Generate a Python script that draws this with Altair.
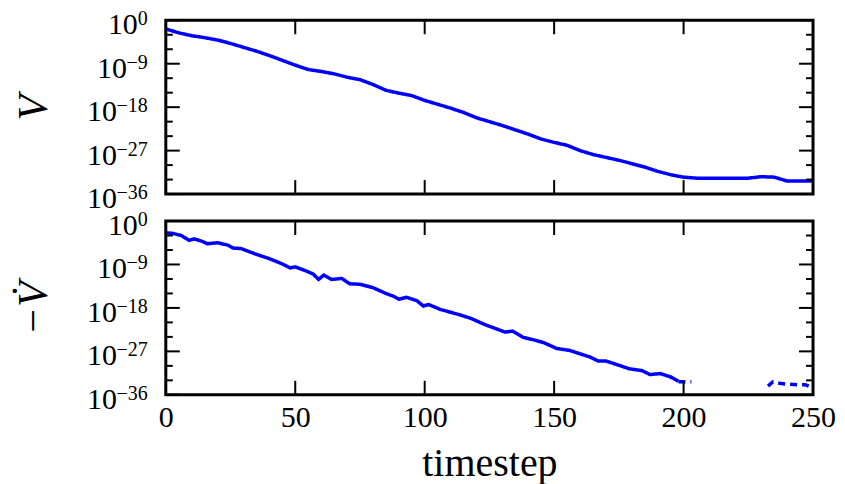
import altair as alt
import pandas as pd

# ---- data (exponents of 10) ----
t_V = [0, 5, 10, 15, 20, 25, 30, 35, 40, 45, 50, 55, 60, 65, 70, 75, 80, 85, 90, 95,
       100, 105, 110, 115, 120, 125, 130, 135, 140, 145, 150, 155, 160, 165, 170, 175,
       180, 185, 190, 195, 200, 205, 210, 215, 220, 225, 230, 235, 240, 245, 250]
exp_V = [-1.8, -2.6, -3.2, -3.6, -4.1, -4.8, -5.6, -6.4, -7.3, -8.3, -9.3, -10.2, -10.6,
         -11.1, -11.8, -12.3, -13.3, -14.5, -15.1, -15.6, -16.6, -17.4, -18.2, -19.1,
         -20.2, -21.0, -21.8, -22.7, -23.6, -24.6, -25.3, -25.9, -27.0, -27.8, -28.4,
         -29.0, -29.7, -30.4, -31.3, -32.0, -32.5, -32.7, -32.7, -32.7, -32.7, -32.7,
         -32.4, -32.5, -33.3, -33.3, -33.3]

t_D = [0, 3, 6, 9, 11, 14, 16, 20, 24, 26, 29, 35, 40, 45, 48, 50, 54, 57, 59, 61, 64,
       68, 71, 75, 80, 85, 88, 90, 93, 97, 99.5, 101.5, 106, 110, 114, 118, 123, 127,
       131, 134, 138, 142, 146, 151, 156, 160, 164, 167, 170, 174, 179, 184, 187, 191,
       195, 198,
       198, 203,
       232.6, 234.5, 237, 240, 244, 247, 250]
exp_D = [-2.4, -2.6, -3.0, -4.0, -3.7, -4.2, -4.7, -4.5, -5.0, -5.6, -5.7, -6.9, -7.8,
         -8.9, -9.7, -9.5, -10.3, -11.0, -12.1, -11.2, -12.1, -11.9, -13.0, -13.1, -13.8,
         -15.0, -15.6, -16.2, -15.8, -16.5, -17.6, -17.3, -18.3, -18.9, -19.5, -20.2,
         -21.4, -22.2, -23.0, -22.8, -24.1, -24.6, -25.2, -26.4, -26.8, -27.5, -28.2,
         -29.0, -29.0, -29.7, -30.6, -31.0, -31.8, -31.6, -32.3, -33.2,
         -33.3, -33.3,
         -34.2, -33.3, -33.6, -33.8, -33.9, -33.9, -34.6]
seg_D = ["a"] * 56 + ["b"] * 2 + ["c"] * 7

y_major = [1e0, 1e-9, 1e-18, 1e-27, 1e-36]
y_major_exp = ["0", "\u22129", "\u221218", "\u221227", "\u221236"]
y_minor = [1e-3, 1e-6, 1e-12, 1e-15, 1e-21, 1e-24, 1e-30, 1e-33]
x_major = [0, 50, 100, 150, 200, 250]

FONT = "Liberation Serif"
W, H = 648, 174
BLUE = "#0000ff"
TICK_FS = 30
EXP_FS = 20
LAB_GAP = 18
# offset of the base "10" for exponents of 1, 2 and 3 characters
BASE_DX = {1: -(LAB_GAP + 10), 2: -(LAB_GAP + 21), 3: -(LAB_GAP + 31)}

df_V = pd.DataFrame({"t": t_V, "v": [10.0 ** e for e in exp_V], "seg": ["a"] * len(t_V)})
df_D = pd.DataFrame({"t": t_D, "v": [10.0 ** e for e in exp_D], "seg": seg_D})
df_ymaj = pd.DataFrame({"v": y_major, "exp": y_major_exp,
                        "n": [len(s) for s in y_major_exp], "base": ["10"] * len(y_major)})
df_ymin = pd.DataFrame({"v": y_minor})
df_x = pd.DataFrame({"x": x_major})

ysc = alt.Scale(type="log", domain=[1e-36, 1], nice=False)
xsc = alt.Scale(domain=[0, 250], nice=False, zero=False)


def y_axis(title):
    return alt.Axis(values=y_major, labels=False, ticks=False, tickSize=0,
                    domain=False, grid=False, title=title, titleFont=FONT,
                    titleFontSize=42, titleFontStyle="italic", titleFontWeight="normal",
                    titleColor="black", titlePadding=110)


def x_axis():
    return alt.Axis(values=x_major, ticks=False, tickSize=0, domain=False, grid=False,
                    labelFont=FONT, labelFontSize=TICK_FS, labelColor="black",
                    labelPadding=8, title="timestep", titleFont=FONT,
                    titleFontSize=40, titleFontWeight="normal", titleColor="black",
                    titlePadding=11, labelFlush=False)


def panel(df, title, show_x):
    xa = x_axis() if show_x else None
    ya = y_axis(title)
    line = alt.Chart(df).mark_line(color=BLUE, strokeWidth=3.5, clip=True).encode(
        x=alt.X("t:Q", scale=xsc, axis=xa),
        y=alt.Y("v:Q", scale=ysc, axis=ya),
        detail="seg:N",
        strokeDash=alt.StrokeDash("seg:N", scale=alt.Scale(domain=["a", "b", "c"],
                                  range=[[1, 0], [7, 5], [7, 5]]), legend=None),
        order="t:Q",
    )
    rule = dict(color="black", strokeWidth=2)
    ylm = alt.Chart(df_ymaj).mark_rule(**rule).encode(
        y=alt.Y("v:Q", scale=ysc, axis=ya), x=alt.value(0), x2=alt.value(14))
    yln = alt.Chart(df_ymin).mark_rule(**rule).encode(
        y=alt.Y("v:Q", scale=ysc, axis=ya), x=alt.value(0), x2=alt.value(7))
    yrm = alt.Chart(df_ymaj).mark_rule(**rule).encode(
        y=alt.Y("v:Q", scale=ysc, axis=ya), x=alt.value(W), x2=alt.value(W - 14))
    yrn = alt.Chart(df_ymin).mark_rule(**rule).encode(
        y=alt.Y("v:Q", scale=ysc, axis=ya), x=alt.value(W), x2=alt.value(W - 7))
    xb = alt.Chart(df_x).mark_rule(**rule).encode(
        x=alt.X("x:Q", scale=xsc, axis=xa), y=alt.value(H), y2=alt.value(H - 14))
    xt = alt.Chart(df_x).mark_rule(**rule).encode(
        x=alt.X("x:Q", scale=xsc, axis=xa), y=alt.value(0), y2=alt.value(14))

    layers = [line, ylm, yln, yrm, yrn, xb, xt]
    # tick labels of the log axis: "10" with a raised exponent
    exp_txt = alt.Chart(df_ymaj).mark_text(
        font=FONT, fontSize=EXP_FS, align="right", baseline="alphabetic",
        dx=-LAB_GAP, dy=5, color="black").encode(
        x=alt.value(0), y=alt.Y("v:Q", scale=ysc, axis=ya), text="exp:N")
    layers.append(exp_txt)
    for n, dx in BASE_DX.items():
        base_txt = alt.Chart(df_ymaj).transform_filter(f"datum.n == {n}").mark_text(
            font=FONT, fontSize=TICK_FS, align="right", baseline="alphabetic",
            dx=dx, dy=14, color="black").encode(
            x=alt.value(0), y=alt.Y("v:Q", scale=ysc, axis=ya), text="base:N")
        layers.append(base_txt)
    return alt.layer(*layers).properties(width=W, height=H)


top = panel(df_V, "V", False)
bottom = panel(df_D, "\u2212V\u0307", True)

chart = alt.vconcat(top, bottom, spacing=27, bounds="flush").properties(
    padding={"left": 3, "top": -1, "right": 0, "bottom": 0}
).configure(background="white").configure_view(stroke="black", strokeWidth=3)

chart.save("out.html", embed_options={"renderer": "svg", "actions": False})
